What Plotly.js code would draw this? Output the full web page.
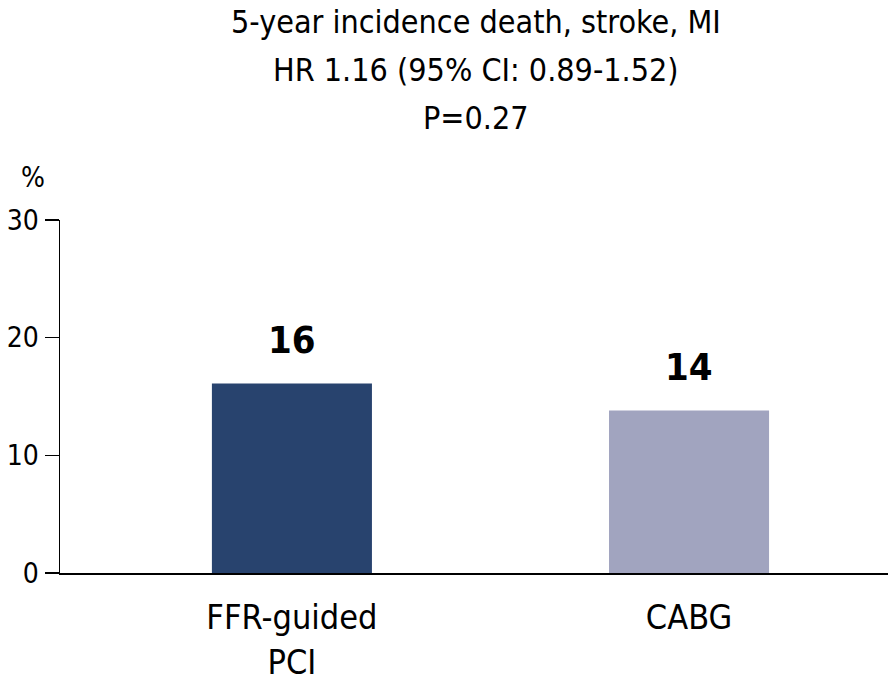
<!DOCTYPE html>
<html>
<head>
<meta charset="utf-8">
<script src="https://cdn.plot.ly/plotly-3.0.1.min.js"></script>
<style>html,body{margin:0;padding:0;background:#fff;}#chart{width:888px;height:691px;}</style>
</head>
<body>
<div id="chart"></div>
<script>
const categories = ["FFR-guided<br>PCI", "CABG"];
const values = [16.1, 13.8];
const valueLabels = ["16", "14"];
const barColors = ["#28436e", "#a1a4bf"];
const yTicks = [0, 10, 20, 30];
const titleLines = ["5-year incidence death, stroke, MI", "HR 1.16 (95% CI: 0.89-1.52)", "P=0.27"];
const yUnit = "%";

const FONT = '"Liberation Sans Narrow", "DejaVu Sans Condensed", "Roboto Condensed", sans-serif';

const trace = {
  type: "bar",
  x: categories,
  y: values,
  width: 0.403,
  marker: {color: barColors, line: {width: 0}},
  hoverinfo: "none"
};

const annotations = categories.map((c, i) => ({
  x: c, y: values[i], xref: "x", yref: "y",
  text: "<b>" + valueLabels[i] + "</b>",
  showarrow: false, yanchor: "bottom", yshift: 20,
  font: {family: FONT, size: 38, color: "#000"}
}));
annotations.push({
  xref: "paper", yref: "paper", x: -0.033, y: 1.12,
  xanchor: "center", yanchor: "middle",
  text: yUnit, showarrow: false,
  font: {family: FONT, size: 28, color: "#000"}
});
// title lines, stacked at fixed spacing
const titleY = [1.561, 1.425, 1.289];
titleLines.forEach((t, i) => annotations.push({
  xref: "paper", yref: "paper", x: 0.503, y: titleY[i],
  xanchor: "center", yanchor: "middle",
  text: t, showarrow: false,
  font: {family: FONT, size: 32, color: "#000"}
}));

const layout = {
  width: 888, height: 691,
  margin: {l: 60, r: 0, t: 220, b: 118},
  paper_bgcolor: "#fff", plot_bgcolor: "#fff",
  font: {family: FONT, color: "#000"},
  showlegend: false,
  xaxis: {
    range: [-0.584, 1.501],
    showline: true, linecolor: "#000", linewidth: 1.5,
    ticks: "", showgrid: false, zeroline: false,
    ticklabelstandoff: 14,
    tickfont: {family: FONT, size: 34, color: "#000"},
    fixedrange: true
  },
  yaxis: {
    range: [0, 30],
    tickvals: yTicks,
    ticktext: yTicks.map(String),
    showline: true, linecolor: "#000", linewidth: 1.5,
    ticks: "outside", ticklen: 14, tickwidth: 1.5, tickcolor: "#000",
    showgrid: false, zeroline: false,
    tickfont: {family: FONT, size: 28, color: "#000"},
    fixedrange: true
  },
  annotations: annotations
};

Plotly.newPlot("chart", [trace], layout, {displayModeBar: false, staticPlot: true});
</script>
</body>
</html>
